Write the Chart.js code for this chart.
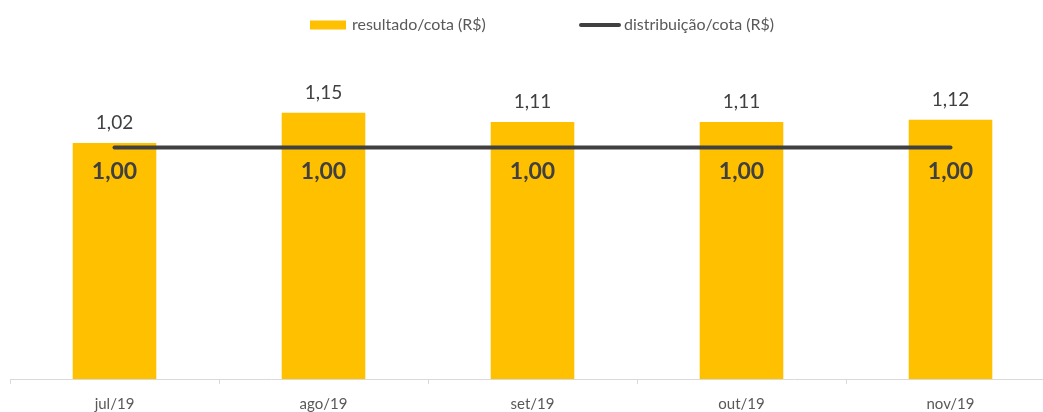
<!DOCTYPE html>
<html><head><meta charset="utf-8">
<script src="https://cdn.jsdelivr.net/npm/chart.js@4"></script>
<style>
html,body{margin:0;padding:0;background:#fff;overflow:hidden}
#wrap{width:1043px;height:412px;overflow:hidden;position:relative}
#box{width:1056px;height:424px;position:absolute;left:0;top:0}
</style></head><body>
<div id="wrap"><div id="box"><canvas id="c"></canvas></div></div>
<script>
const categories = ['jul/19', 'ago/19', 'set/19', 'out/19', 'nov/19'];
const resultadoCota = [1.02, 1.15, 1.11, 1.11, 1.12];
const distribuicaoCota = [1.00, 1.00, 1.00, 1.00, 1.00];
const seriesLabels = ['resultado/cota (R$)', 'distribuição/cota (R$)'];

const fmt = v => v.toFixed(2).replace('.', ',');

const valueLabels = {
  id: 'valueLabels',
  afterDatasetsDraw(chart) {
    const ctx = chart.ctx;
    const barMeta = chart.getDatasetMeta(0);
    const lineMeta = chart.getDatasetMeta(1);
    ctx.save();
    ctx.textAlign = 'center';
    ctx.textBaseline = 'middle';
    ctx.fillStyle = '#404040';
    ctx.font = '19px Lato';
    barMeta.data.forEach((el, i) => ctx.fillText(fmt(resultadoCota[i]), el.x, el.y - 20));
    ctx.font = 'bold 23px Lato';
    lineMeta.data.forEach((el, i) => ctx.fillText(fmt(distribuicaoCota[i]), el.x, el.y + 24));
    ctx.restore();
  }
};

const customLegend = {
  id: 'customLegend',
  afterDraw(chart) {
    const ctx = chart.ctx;
    const ds = chart.data.datasets;
    const y = 25;
    ctx.save();
    ctx.font = '16px Lato';
    ctx.textBaseline = 'middle';
    ctx.textAlign = 'left';
    let x = 310;
    ctx.fillStyle = ds[0].backgroundColor;
    ctx.fillRect(x, y - 4.5, 36, 9);
    ctx.fillStyle = '#595959';
    ctx.fillText(ds[0].label, x + 42, y);
    x = 581;
    ctx.strokeStyle = ds[1].borderColor;
    ctx.lineWidth = 4;
    ctx.lineCap = 'round';
    ctx.beginPath();
    ctx.moveTo(x, y);
    ctx.lineTo(x + 38, y);
    ctx.stroke();
    ctx.fillText(ds[1].label, x + 43, y);
    ctx.restore();
  }
};

new Chart(document.getElementById('c'), {
  type: 'bar',
  data: {
    labels: categories,
    datasets: [
      {
        type: 'bar',
        label: seriesLabels[0],
        data: resultadoCota,
        backgroundColor: '#FFC000',
        barPercentage: 0.4,
        categoryPercentage: 1,
        order: 1
      },
      {
        type: 'line',
        label: seriesLabels[1],
        data: distribuicaoCota,
        borderColor: '#404040',
        backgroundColor: '#404040',
        borderWidth: 4,
        borderCapStyle: 'round',
        pointRadius: 0,
        fill: false,
        order: 0
      }
    ]
  },
  options: {
    responsive: true,
    maintainAspectRatio: false,
    animation: false,
    layout: { padding: { top: 55, left: 10, right: 1, bottom: 0 } },
    plugins: { legend: { display: false }, tooltip: { enabled: false } },
    scales: {
      x: {
        offset: true,
        grid: { display: true, drawOnChartArea: false, drawTicks: true, tickLength: 5, color: '#d9d9d9', offset: true },
        border: { display: true, color: '#d9d9d9', width: 1 },
        ticks: { color: '#595959', font: { family: 'Lato', size: 15 }, padding: 11 }
      },
      y: { display: false, min: 0, max: 1.4 }
    }
  },
  plugins: [valueLabels, customLegend]
});
</script>
</body></html>
